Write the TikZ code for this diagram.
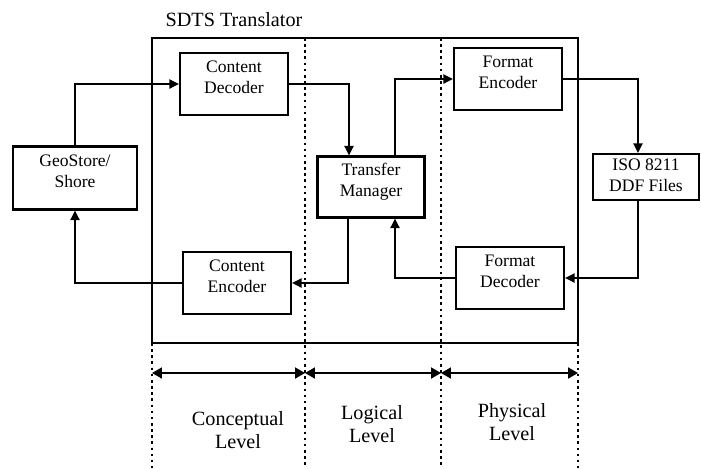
\documentclass[tikz,border=0pt]{standalone}
\usepackage{fontspec}
\setmainfont{Liberation Serif}
\usetikzlibrary{arrows.meta}

\begin{document}
\begin{tikzpicture}[x=0.02cm, y=-0.02cm, line width=1.1pt,
  box/.style={draw, line width=1.2pt, align=center, inner sep=0pt, minimum width=2.16cm, minimum height=1.24cm,
    text depth=0.28cm, font=\fontsize{10}{11.9}\selectfont},
  arr/.style={-{Triangle[length=0.19cm, width=0.18cm]}},
  span/.style={{Triangle[length=0.2cm, width=0.22cm]}-{Triangle[length=0.2cm, width=0.22cm]}},
  divider/.style={dotted, line width=1.5pt},
  lvl/.style={align=center, font=\fontsize{11.5}{13}\selectfont}]

\useasboundingbox (0,0) rectangle (701,468);

% translator frame
\draw[line width=1.2pt] (152,38) rectangle (578,343);
\node[font=\fontsize{11.5}{13}\selectfont] (title) at (234,20) {SDTS Translator};

% boxes
\node[box, minimum width=2.48cm, minimum height=1.26cm] (geo) at (75,178) {GeoStore/\\Shore};
\node[box] (cdec) at (234,84) {Content\\Decoder};
\node[box] (cenc) at (237,283) {Content\\Encoder};
\node[box, minimum width=2.14cm, minimum height=1.22cm, text depth=0.27cm] (tm) at (371,187) {Transfer\\Manager};
\node[box] (fenc) at (508,79) {Format\\Encoder};
\node[box] (fdec) at (510,278) {Format\\Decoder};
\node[box, minimum width=2.12cm, minimum height=0.92cm, text depth=0.08cm] (iso) at (646,177) {ISO 8211\\DDF Files};

% data flow
\draw[arr] (geo.north) |- (cdec.west);
\draw[arr] (cdec.east) -| ([xshift=-0.44cm]tm.north);
\draw[arr] ([xshift=0.48cm]tm.north) |- (fenc.west);
\draw[arr] (fenc.east) -| ([xshift=-0.16cm]iso.north);
\draw[arr] ([xshift=-0.16cm]iso.south) |- (fdec.east);
\draw[arr] (fdec.west) -| ([xshift=0.48cm]tm.south);
\draw[arr] ([xshift=-0.46cm]tm.south) |- (cenc.east);
\draw[arr] (cenc.west) -| (geo.south);

% level dividers
\foreach \x in {305,441}
  \draw[divider] (\x,38) -- (\x,468);
\foreach \x in {152,578}
  \draw[divider] (\x,343) -- (\x,468);

\coordinate (c1) at (152,373);
\coordinate (c2) at (305,373);
\coordinate (c3) at (441,373);
\coordinate (c4) at (578,373);
\draw[span] (c1) -- (c2);
\draw[span] (c2) -- (c3);
\draw[span] (c3) -- (c4);

\node[lvl] (concept) at (238,430) {Conceptual\\Level};
\node[lvl] (logic) at (372,424) {Logical\\Level};
\node[lvl] (phys) at (512,422) {Physical\\Level};
\end{tikzpicture}
\end{document}
